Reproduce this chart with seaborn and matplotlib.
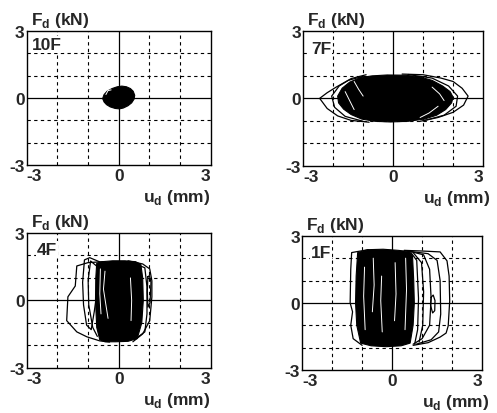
import matplotlib
matplotlib.use("Agg")
import matplotlib.pyplot as plt
import seaborn as sns

# ---------------- data ----------------
floors = ["10F", "7F", "4F", "1F"]
tick_vals = [-3, 0, 3]
tick_labels = ["-3", "0", "3"]
grid_vals = [-2, -1, 1, 2]

# 10F: small dense blob
c10_x = [-0.52, -0.48, -0.38, -0.22, -0.05, 0.10, 0.25, 0.38, 0.47, 0.52, 0.50, 0.42, 0.30, 0.15, 0.02, -0.12, -0.28, -0.40, -0.48, -0.52]
c10_y = [0.00, 0.15, 0.30, 0.42, 0.50, 0.53, 0.50, 0.42, 0.30, 0.12, -0.05, -0.22, -0.35, -0.45, -0.49, -0.47, -0.40, -0.30, -0.18, -0.05]
w10a_x = [-0.42, -0.35, -0.25]
w10a_y = [0.15, 0.33, 0.36]

# 7F: wide flat loops
c7_x = [-1.85, -1.70, -1.45, -1.10, -0.70, -0.20, 0.40, 0.90, 1.30, 1.65, 1.90, 2.00, 1.95, 1.75, 1.45, 1.05, 0.50, -0.10, -0.60, -1.05, -1.40, -1.65, -1.82]
c7_y = [0.10, 0.45, 0.72, 0.92, 1.00, 1.04, 1.03, 0.95, 0.80, 0.55, 0.30, 0.05, -0.20, -0.50, -0.75, -0.92, -1.02, -1.05, -1.02, -0.92, -0.72, -0.48, -0.20]
o7a_x = [-1.0, -1.5, -1.9, -2.2, -2.45, -2.2, -1.85, -1.4, -0.8]
o7a_y = [0.98, 0.80, 0.50, 0.25, 0.00, -0.45, -0.78, -0.98, -1.06]
o7b_x = [0.3, 1.0, 1.6, 2.0, 2.3, 2.5, 2.35, 2.0, 1.5, 0.9]
o7b_y = [1.08, 1.05, 0.90, 0.75, 0.45, 0.10, -0.30, -0.62, -0.85, -1.02]
o7c_x = [-0.9, -1.4, -1.8, -2.05, -1.95, -1.6, -1.0]
o7c_y = [1.05, 0.88, 0.55, 0.10, -0.40, -0.80, -1.02]
o7d_x = [0.5, 1.3, 1.85, 2.15, 2.1, 1.7, 1.0]
o7d_y = [1.06, 0.90, 0.55, 0.10, -0.35, -0.75, -1.00]
w7a_x = [-1.6, -1.45, -1.3]
w7a_y = [0.30, -0.10, -0.50]
w7b_x = [-1.3, -1.15, -1.0]
w7b_y = [0.75, 0.40, 0.10]
w7c_x = [0.9, 1.2, 1.5]
w7c_y = [-0.85, -0.65, -0.35]
w7d_x = [1.3, 1.55, 1.7]
w7d_y = [0.50, 0.20, -0.10]

# 4F: tall loops
c4_x = [-0.72, -0.55, -0.20, 0.20, 0.55, 0.72, 0.78, 0.80, 0.75, 0.60, 0.30, -0.10, -0.45, -0.62, -0.72, -0.76, -0.75]
c4_y = [1.65, 1.72, 1.76, 1.76, 1.72, 1.60, 1.00, 0.00, -1.00, -1.70, -1.82, -1.84, -1.84, -1.75, -1.20, 0.00, 1.00]
o4a_x = [-0.5, -1.0, -1.37, -1.42, -1.66, -1.70, -1.37, -1.04, -0.62, -0.3]
o4a_y = [1.72, 1.68, 1.53, 0.64, 0.16, -0.90, -1.40, -1.62, -1.80, -1.85]
o4b_x = [0.3, 0.78, 1.01, 1.08, 1.08, 1.01, 0.78, 0.46]
o4b_y = [1.76, 1.62, 1.40, 0.87, 0.16, -0.90, -1.49, -1.84]
o4c_x = [0.4, 0.85, 0.92, 0.92, 0.85, 0.5]
o4c_y = [1.70, 1.45, 0.60, -0.60, -1.40, -1.75]
o4d_x = [-0.6, -0.95, -1.12, -1.18, -1.15, -1.05, -0.9, -0.8, -0.7]
o4d_y = [1.70, 1.90, 1.80, 0.80, -0.20, -1.10, -1.30, -0.50, 0.50]
o4e_x = [-0.7, -0.92, -1.0, -0.98, -0.85, -0.7]
o4e_y = [1.50, 1.75, 0.90, -0.20, -1.20, -1.60]
o4f_x = [0.95, 1.0, 1.05, 1.02, 0.95, 0.93, 0.95]
o4f_y = [1.05, 1.10, 0.80, -0.10, -0.30, 0.40, 1.05]
w4a_x = [-0.45, -0.50, -0.42, -0.35]
w4a_y = [1.30, 0.50, -0.20, -0.80]
w4b_x = [0.38, 0.42, 0.40]
w4b_y = [1.00, 0.00, -0.90]
w4c_x = [-0.60, -0.62, -0.58]
w4c_y = [1.40, 0.30, -0.60]

# 1F: tallest loops
c1_x = [-1.15, -0.8, -0.3, 0.2, 0.55, 0.68, 0.72, 0.74, 0.70, 0.60, 0.3, -0.2, -0.7, -1.05, -1.18, -1.22, -1.20]
c1_y = [2.25, 2.38, 2.40, 2.35, 2.30, 2.10, 1.00, 0.00, -1.00, -1.80, -1.92, -1.96, -1.92, -1.80, -1.00, 0.00, 1.20]
o1a_x = [0.4, 1.0, 1.6, 1.83, 1.90, 1.92, 1.87, 1.80, 1.6, 1.2, 0.7]
o1a_y = [2.35, 2.32, 2.28, 1.88, 1.20, 0.09, -1.03, -1.35, -1.53, -1.78, -1.90]
o1b_x = [0.5, 1.2, 1.5, 1.6, 1.62, 1.55, 1.3, 0.8]
o1b_y = [2.32, 2.20, 1.90, 1.00, -0.50, -1.30, -1.65, -1.85]
o1c_x = [0.6, 1.05, 1.25, 1.30, 1.25, 1.0, 0.7]
o1c_y = [2.30, 2.15, 1.50, 0.20, -1.00, -1.60, -1.85]
o1d_x = [0.7, 0.98, 1.05, 1.02, 0.9]
o1d_y = [2.25, 1.80, 0.50, -1.00, -1.75]
o1e_x = [1.30, 1.37, 1.43, 1.42, 1.35, 1.28, 1.30]
o1e_y = [0.25, 0.35, 0.10, -0.35, -0.45, -0.10, 0.25]
o1f_x = [-0.8, -1.35, -1.38, -1.40, -1.32, -1.38, -1.3, -1.0]
o1f_y = [2.38, 2.25, 1.50, 0.00, -0.40, -1.00, -1.60, -1.90]
o1g_x = [0.6, 0.82, 0.88, 0.85, 0.75]
o1g_y = [2.30, 1.90, 0.20, -1.20, -1.85]
w1a_x = [-0.92, -0.95, -0.90]
w1a_y = [1.60, 0.30, -1.20]
w1b_x = [-0.63, -0.60, -0.66]
w1b_y = [2.00, 0.80, -0.40]
w1c_x = [0.10, 0.13, 0.08]
w1c_y = [1.80, 0.40, -0.80]
w1d_x = [0.45, 0.48, 0.43]
w1d_y = [2.00, 0.60, -1.20]
w1e_x = [-0.35, -0.38, -0.33]
w1e_y = [1.20, 0.10, -1.30]

panels = [
    dict(core=(c10_x, c10_y), loops=[], white=[(w10a_x, w10a_y)]),
    dict(core=(c7_x, c7_y), loops=[(o7a_x, o7a_y), (o7b_x, o7b_y), (o7c_x, o7c_y), (o7d_x, o7d_y)],
         white=[(w7a_x, w7a_y), (w7b_x, w7b_y), (w7c_x, w7c_y), (w7d_x, w7d_y)]),
    dict(core=(c4_x, c4_y), loops=[(o4a_x, o4a_y), (o4b_x, o4b_y), (o4c_x, o4c_y), (o4d_x, o4d_y),
                                   (o4e_x, o4e_y), (o4f_x, o4f_y)],
         white=[(w4a_x, w4a_y), (w4b_x, w4b_y), (w4c_x, w4c_y)]),
    dict(core=(c1_x, c1_y), loops=[(o1a_x, o1a_y), (o1b_x, o1b_y), (o1c_x, o1c_y), (o1d_x, o1d_y),
                                   (o1e_x, o1e_y), (o1f_x, o1f_y), (o1g_x, o1g_y)],
         white=[(w1a_x, w1a_y), (w1b_x, w1b_y), (w1c_x, w1c_y), (w1d_x, w1d_y), (w1e_x, w1e_y)]),
]

# ---------------- style ----------------
sns.set_style("white")
plt.rcParams["font.family"] = ["Liberation Sans", "DejaVu Sans"]
plt.rcParams["font.weight"] = "bold"
plt.rcParams["mathtext.fontset"] = "custom"
plt.rcParams["mathtext.rm"] = "Liberation Sans:bold"
plt.rcParams["mathtext.bf"] = "Liberation Sans:bold"
FS = 12.5

fig = plt.figure(figsize=(4.97, 4.14), dpi=100)
rects = [
    [0.054, 0.599, 0.370, 0.324],
    [0.610, 0.597, 0.362, 0.326],
    [0.054, 0.109, 0.370, 0.326],
    [0.608, 0.104, 0.362, 0.324],
]
label_pos = [(0.027, 0.045), (0.045, 0.075), (0.055, 0.07), (0.05, 0.07)]
ud_x = [1.0, 1.04, 1.0, 1.04]

for i, (p, r) in enumerate(zip(panels, rects)):
    ax = fig.add_axes(r)
    ax.set_xlim(-3, 3)
    ax.set_ylim(-3, 3)
    ax.set_axisbelow(True)
    for g in grid_vals:
        ax.axvline(g, color="black", lw=0.8, ls=(0, (3, 3)), zorder=0)
        ax.axhline(g, color="black", lw=0.8, ls=(0, (3, 3)), zorder=0)
    ax.axvline(0, color="black", lw=0.9, zorder=0)
    ax.axhline(0, color="black", lw=0.9, zorder=0)

    cx, cy = p["core"]
    ax.fill(cx, cy, color="black", lw=0.8, zorder=2)
    for lx, ly in p["loops"]:
        sns.lineplot(x=lx, y=ly, sort=False, estimator=None, color="black", lw=0.9, ax=ax, zorder=3)
    for wx, wy in p["white"]:
        sns.lineplot(x=wx, y=wy, sort=False, estimator=None, color="white", lw=0.7, ax=ax, zorder=4)

    ax.set_xticks(tick_vals)
    ax.set_yticks(tick_vals)
    ax.set_xticklabels(tick_labels, fontsize=FS, fontweight="bold")
    ax.set_yticklabels(tick_labels, fontsize=FS, fontweight="bold")
    xl = ax.get_xticklabels()
    xl[0].set_ha("left")
    xl[-1].set_ha("right")
    ax.tick_params(axis="both", length=0)
    ax.tick_params(axis="x", pad=2.5)
    ax.tick_params(axis="y", pad=1.5)
    ax.set_xlabel("")
    ax.set_ylabel("")
    for s in ax.spines.values():
        s.set_color("black")
        s.set_linewidth(1.0)
        s.set_visible(True)

    ax.text(label_pos[i][0], 1.0 - label_pos[i][1], floors[i], transform=ax.transAxes,
            ha="left", va="top", fontsize=FS, fontweight="bold", zorder=5,
            bbox=dict(boxstyle="square,pad=0.05", fc="white", ec="none"))
    ax.text(0.02, 1.015, r"F$_\mathrm{d}$ (kN)", transform=ax.transAxes,
            ha="left", va="bottom", fontsize=FS, fontweight="bold")
    ax.text(ud_x[i], -0.235, r"u$_\mathrm{d}$ (mm)", transform=ax.transAxes,
            ha="right", va="center", fontsize=FS, fontweight="bold")

fig.savefig("out.png", dpi=100)
